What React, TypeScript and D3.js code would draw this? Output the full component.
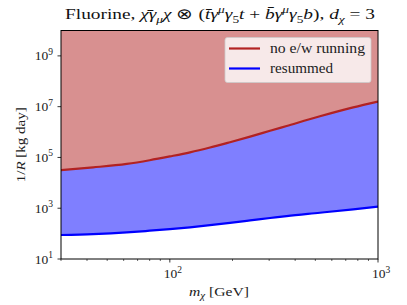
import React from "react";
import * as d3 from "d3";

const masses = [30, 42.8, 62.1, 80, 100, 125, 156, 194.5, 243, 303, 364, 526, 760, 1000];
const noEwRunning = [31840, 40640, 55590, 77620, 109600, 158500, 245500, 398100, 660700, 1122000, 1738000, 4169000, 9333000, 15850000];
const resummed = [88, 96, 112, 130, 150, 177, 215, 265, 330, 411, 492, 664, 903, 1150];
const yTicks = [1e1, 1e3, 1e5, 1e7, 1e9];
const yTickExp = ["1", "3", "5", "7", "9"];
const xMajor = [100, 1000];
const xMajorExp = ["2", "3"];
const xMinor = [30, 40, 50, 60, 70, 80, 90, 200, 300, 400, 500, 600, 700, 800, 900];
const legendLabels = ["no e/w running", "resummed"];

const W = 407, H = 305;
const L = 61, R = 378, T = 30.5, B = 259;
const FONT = "'Liberation Serif', serif";

type Seg = [string, "n" | "i" | "sub" | "subn" | "sup"];

function MathText({ segs, size, small }: { segs: Seg[]; size: number; small: number }) {
  let cur = 0;
  return (
    <>
      {segs.map(([t, k], i) => {
        const target = k === "sub" || k === "subn" ? size * 0.25 : k === "sup" ? -size * 0.38 : 0;
        const dy = target - cur;
        cur = target;
        const isSmall = k === "sub" || k === "subn" || k === "sup";
        const italic = k === "i" || k === "sub" || k === "sup";
        return (
          <tspan key={i} dy={dy} fontSize={isSmall ? small : size} fontStyle={italic ? "italic" : "normal"}>
            {t}
          </tspan>
        );
      })}
    </>
  );
}

const titleSegs: Seg[] = [
  ["Fluorine, ", "n"], ["χ\u0304γ", "i"], ["μ", "sub"], ["χ", "i"], [" ⊗ (", "n"],
  ["t\u0304γ", "i"], ["μ", "sup"], ["γ", "i"], ["5", "subn"], ["t", "i"], [" + ", "n"],
  ["b\u0304γ", "i"], ["μ", "sup"], ["γ", "i"], ["5", "subn"], ["b", "i"], ["), ", "n"],
  ["d", "i"], ["χ", "sub"], [" = 3", "n"],
];

export default function App() {
  const x = d3.scaleLog().domain([30, 1000]).range([L, R]);
  const y = d3.scaleLog().domain([10, 1e10]).range([B, T]);
  const pts = masses.map((m, i) => ({ m, r: noEwRunning[i], b: resummed[i] }));
  const redArea = d3.area<any>().x(d => x(d.m)).y0(() => y(1e10)).y1(d => y(d.r)).curve(d3.curveMonotoneX);
  const blueArea = d3.area<any>().x(d => x(d.m)).y0(d => y(d.b)).y1(d => y(d.r)).curve(d3.curveMonotoneX);
  const redLine = d3.line<any>().x(d => x(d.m)).y(d => y(d.r)).curve(d3.curveMonotoneX);
  const blueLine = d3.line<any>().x(d => x(d.m)).y(d => y(d.b)).curve(d3.curveMonotoneX);
  const ts = { fontFamily: FONT };
  return (
    <svg width={W} height={H} style={{ position: "absolute", left: 0, top: 0, background: "white" }}>
      <defs>
        <clipPath id="plot"><rect x={L} y={T} width={R - L} height={B - T} /></clipPath>
      </defs>
      <g clipPath="url(#plot)">
        <path d={redArea(pts) || ""} fill="#b22222" fillOpacity={0.5} stroke="none" />
        <path d={blueArea(pts) || ""} fill="#0000ff" fillOpacity={0.5} stroke="none" />
        <path d={redLine(pts) || ""} fill="none" stroke="#b22222" strokeWidth={2.2} />
        <path d={blueLine(pts) || ""} fill="none" stroke="#0000ff" strokeWidth={2.2} />
      </g>
      <rect x={L} y={T} width={R - L} height={B - T} fill="none" stroke="black" strokeWidth={1} />
      {yTicks.map((v, i) => (
        <g key={"y" + i}>
          <line x1={L - 3.5} x2={L} y1={y(v)} y2={y(v)} stroke="black" strokeWidth={0.8} />
          <text x={L - 8} y={y(v) + 4.5} textAnchor="end" fontSize={13.5} fill="#222" style={ts}>
            10<tspan dy={-5.5} fontSize={9.5}>{yTickExp[i]}</tspan>
          </text>
        </g>
      ))}
      {xMajor.map((v, i) => (
        <g key={"x" + i}>
          <line x1={x(v)} x2={x(v)} y1={B} y2={B + 3.5} stroke="black" strokeWidth={0.8} />
          <text x={x(v) + 3} y={B + 19} textAnchor="middle" fontSize={13.5} fill="#222" style={ts}>
            10<tspan dy={-5.5} fontSize={9.5}>{xMajorExp[i]}</tspan>
          </text>
        </g>
      ))}
      {xMinor.map((v, i) => (
        <line key={"m" + i} x1={x(v)} x2={x(v)} y1={B} y2={B + 2} stroke="black" strokeWidth={0.6} />
      ))}
      <text x={219} y={296} textAnchor="middle" fontSize={13.5} fill="#222" style={ts} textLength={60} lengthAdjust="spacingAndGlyphs">
        <MathText size={13.5} small={9.5} segs={[["m", "i"], ["χ", "sub"], [" [GeV]", "n"]]} />
      </text>
      <text transform={`translate(25,${(T + B) / 2}) rotate(-90)`} textAnchor="middle" fontSize={13.5} fill="#222" style={ts}
        textLength={75} lengthAdjust="spacingAndGlyphs">
        <MathText size={13.5} small={9.5} segs={[["1/", "n"], ["R", "i"], [" [kg day]", "n"]]} />
      </text>
      <text x={220} y={19} textAnchor="middle" fontSize={14.5} fill="#111" style={ts} textLength={310} lengthAdjust="spacingAndGlyphs">
        <MathText size={14.5} small={10} segs={titleSegs} />
      </text>
      <g>
        <rect x={225} y={37.5} width={146} height={45} rx={2.5} fill="white" fillOpacity={0.8} stroke="#cccccc" strokeWidth={0.8} />
        <line x1={229} x2={260} y1={48.5} y2={48.5} stroke="#b22222" strokeWidth={2.2} />
        <line x1={229} x2={260} y1={68.5} y2={68.5} stroke="#0000ff" strokeWidth={2.2} />
        <text x={270} y={53} fontSize={14} fill="#222" style={ts} textLength={95} lengthAdjust="spacingAndGlyphs">{legendLabels[0]}</text>
        <text x={270} y={73} fontSize={14} fill="#222" style={ts} textLength={63} lengthAdjust="spacingAndGlyphs">{legendLabels[1]}</text>
      </g>
    </svg>
  );
}
